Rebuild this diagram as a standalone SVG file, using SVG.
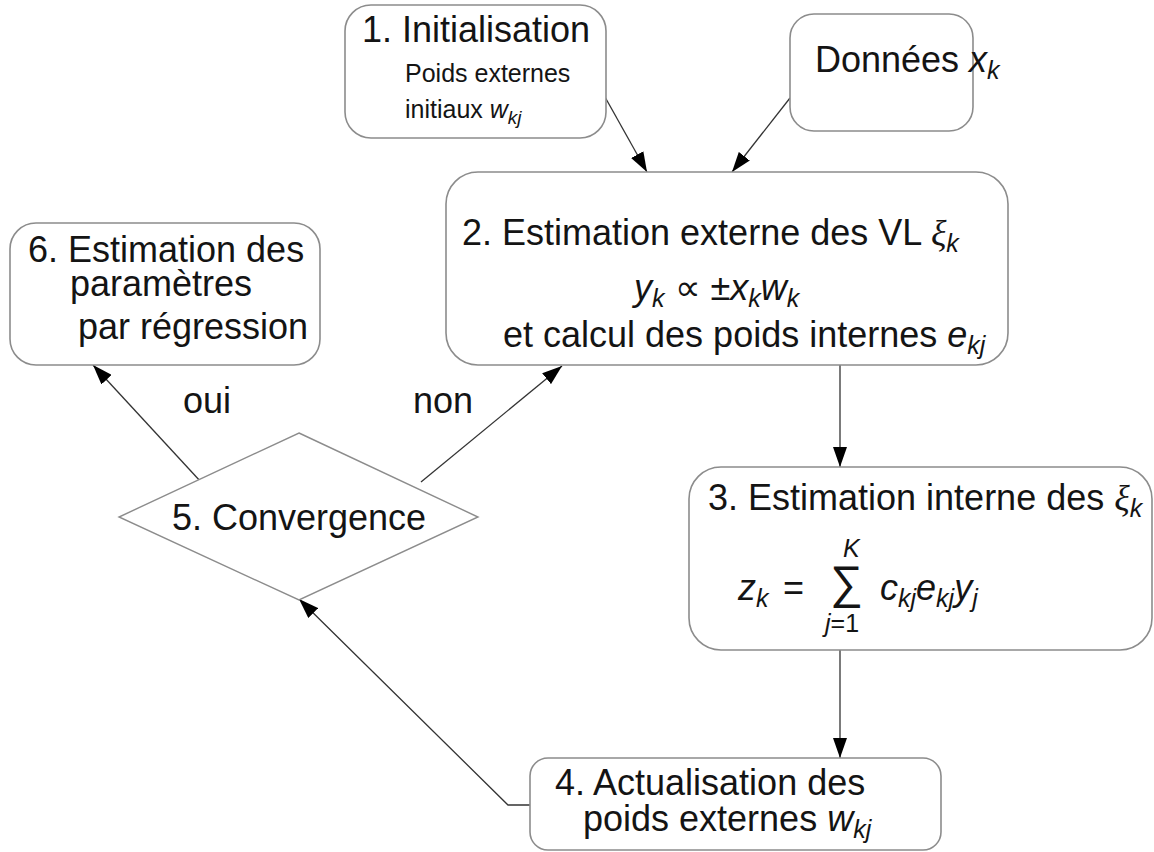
<svg xmlns="http://www.w3.org/2000/svg" width="1154" height="852" viewBox="0 0 1154 852">
<defs>
<style>
.box{fill:#fff;stroke:#8c8c8c;stroke-width:1.6}
.t{font-family:"Liberation Sans",Arial,sans-serif;fill:#141414}
.big{font-size:36px}
.sm{font-size:25px}
.sub{font-size:25px;font-style:italic}
.it{font-style:italic}
.edge{fill:none;stroke:#333;stroke-width:1.3}
</style>
<marker id="ah" markerUnits="userSpaceOnUse" viewBox="0 0 20 14" refX="20" refY="7" markerWidth="20" markerHeight="14" orient="auto">
<path d="M0,0 L20,7 L0,14 z" fill="#000"/>
</marker>
</defs>
<rect width="1154" height="852" fill="#fff"/>

<g id="connectors">
<line class="edge" x1="605" y1="97" x2="647" y2="172" marker-end="url(#ah)"/>
<line class="edge" x1="790" y1="98" x2="732" y2="172" marker-end="url(#ah)"/>
<line class="edge" x1="840" y1="365" x2="840" y2="467" marker-end="url(#ah)"/>
<line class="edge" x1="840" y1="650" x2="840" y2="758" marker-end="url(#ah)"/>
<polyline class="edge" points="530,805 508,805 299,599" marker-end="url(#ah)"/>
<line class="edge" x1="201" y1="482" x2="93" y2="365" marker-end="url(#ah)"/>
<line class="edge" x1="421" y1="482" x2="562" y2="366" marker-end="url(#ah)"/>
<text class="t big" x="183" y="413">oui</text>
<text class="t big" x="413" y="413">non</text>
</g>

<g id="n1">
<rect class="box" x="345" y="5" width="261" height="133" rx="26"/>
<text class="t big" x="362" y="42">1. Initialisation</text>
<text class="t sm" x="405" y="82">Poids externes</text>
<text class="t sm" x="405" y="118">initiaux <tspan class="it">w</tspan><tspan class="it" font-size="19" dy="6">kj</tspan></text>
</g>

<g id="n0">
<rect class="box" x="790" y="14" width="183" height="117" rx="24"/>
<text class="t big" x="815" y="72">Données <tspan class="it">x</tspan><tspan class="sub" dy="7">k</tspan></text>
</g>

<g id="n2">
<rect class="box" x="446" y="172" width="562" height="193" rx="32"/>
<text class="t big" x="462" y="245">2. Estimation externe des VL <tspan font-family="Liberation Serif" class="it">ξ</tspan><tspan class="sub" dy="7">k</tspan></text>
<text class="t big" x="634" y="300"><tspan class="it">y</tspan><tspan class="sub" dy="7">k</tspan><tspan dy="-7"> ∝ ±</tspan><tspan class="it">x</tspan><tspan class="sub" dy="7">k</tspan><tspan class="it" dy="-7">w</tspan><tspan class="sub" dy="7">k</tspan></text>
<text class="t big" x="503" y="347">et calcul des poids internes <tspan class="it">e</tspan><tspan class="sub" dy="7">kj</tspan></text>
</g>

<g id="n6">
<rect class="box" x="10" y="223" width="310" height="142" rx="26"/>
<text class="t big" x="28" y="262">6. Estimation des</text>
<text class="t big" x="70" y="296">paramètres</text>
<text class="t big" x="78" y="339">par régression</text>
</g>

<g id="n5">
<polygon points="299,433 478,517 299,600 119,517" fill="#fff" stroke="#8c8c8c" stroke-width="1.4"/>
<text class="t big" x="299" y="530" text-anchor="middle">5. Convergence</text>
</g>

<g id="n3">
<rect class="box" x="689" y="467" width="463" height="183" rx="32"/>
<text class="t big" x="708" y="510">3. Estimation interne des <tspan font-family="Liberation Serif" class="it">ξ</tspan><tspan class="sub" dy="7">k</tspan></text>
<text class="t big" x="738" y="600"><tspan class="it">z</tspan><tspan class="sub" dy="7">k</tspan></text>
<text class="t big" x="783" y="600">=</text>
<text class="t" font-size="46" x="830" y="598">∑</text>
<text class="t it" font-size="25" x="843" y="557">K</text>
<text class="t" font-size="25" x="825" y="632"><tspan class="it">j</tspan>=1</text>
<text class="t big" x="880" y="600"><tspan class="it">c</tspan><tspan class="sub" dy="7">kj</tspan><tspan class="it" dy="-7">e</tspan><tspan class="sub" dy="7">kj</tspan><tspan class="it" dy="-7">y</tspan><tspan class="sub" dy="7">j</tspan></text>
</g>

<g id="n4">
<rect class="box" x="530" y="758" width="411" height="92" rx="18"/>
<text class="t big" x="555" y="795">4. Actualisation des</text>
<text class="t big" x="583" y="831">poids externes <tspan class="it">w</tspan><tspan class="sub" dy="7">kj</tspan></text>
</g>
</svg>
